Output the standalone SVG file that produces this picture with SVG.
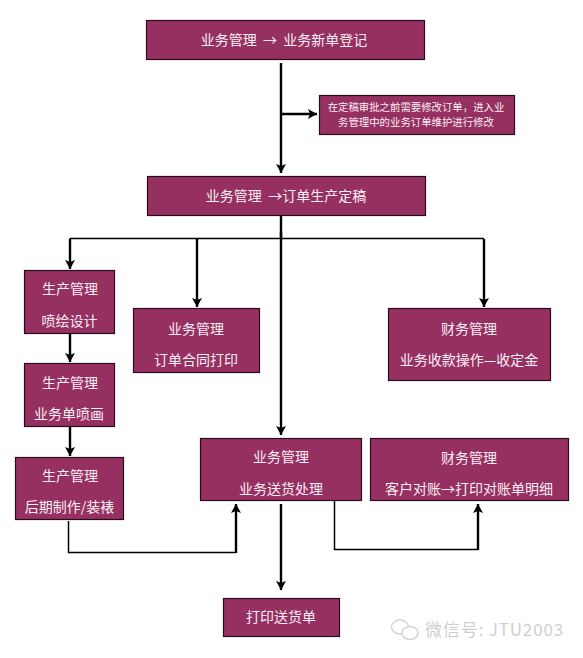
<svg xmlns="http://www.w3.org/2000/svg" width="583" height="658" viewBox="0 0 583 658">
<style>
.b{fill:#953061;stroke:#2a0a20;stroke-width:1.2}
.t{font-family:"Noto Sans CJK SC","Liberation Sans",sans-serif;font-size:14px;fill:#fbeef4;text-anchor:middle}
.s{font-size:10.4px}
.c{fill:none;stroke:#000;stroke-width:2.4}
.n{fill:none;stroke:#000;stroke-width:1.5}
.h{fill:#000}
.w{font-family:"Noto Sans CJK SC","Liberation Sans",sans-serif;font-size:17px;fill:#cfcfcf;letter-spacing:.85px}
</style>
<defs>
<marker id="a" markerUnits="userSpaceOnUse" markerWidth="11" markerHeight="10" refX="9" refY="5" orient="auto"><path class="h" d="M0 0L9 5L0 10L2 5Z"/></marker>
</defs>
<rect width="583" height="658" fill="#fff"/>
<g id="connectors">
<path class="c" d="M281 63V173" marker-end="url(#a)"/>
<path class="c" d="M281 114H317" marker-end="url(#a)"/>
<path class="c" d="M281 215V238"/>
<path class="n" d="M69.500 238.500H484"/>
<path class="c" d="M70 239V269" marker-end="url(#a)"/>
<path class="c" d="M197 239V307" marker-end="url(#a)"/>
<path class="c" d="M281 232V435" marker-end="url(#a)"/>
<path class="c" d="M484 239V307" marker-end="url(#a)"/>
<path class="c" d="M70 333V362" marker-end="url(#a)"/>
<path class="c" d="M70 426V456" marker-end="url(#a)"/>
<path class="n" d="M68.500 521V552.500H236"/>
<path class="c" d="M236 553V504" marker-end="url(#a)"/>
<path class="c" d="M281 504V590" marker-end="url(#a)"/>
<path class="n" d="M334.500 500V549.500H478"/>
<path class="c" d="M478 550V504" marker-end="url(#a)"/>
</g>
<g id="n1"><rect class="b" x="146.500" y="20.500" width="278" height="39"/><text class="t" x="284" y="45">业务管理 &#160;→&#160; 业务新单登记</text></g>
<g id="n2"><rect class="b" x="319.500" y="95.500" width="195" height="39"/><text class="t s" x="416" y="111">在定稿审批之前需要修改订单，进入业</text><text class="t s" x="416" y="126">务管理中的业务订单维护进行修改</text></g>
<g id="n3"><rect class="b" x="147.500" y="176.500" width="278" height="39"/><text class="t" x="286" y="201">业务管理 &#160;→订单生产定稿</text></g>
<g id="n4"><rect class="b" x="24.500" y="270.500" width="90" height="63"/><text class="t" x="70" y="294">生产管理</text><text class="t" x="69.500" y="326">喷绘设计</text></g>
<g id="n5"><rect class="b" x="133.500" y="308.500" width="126" height="64"/><text class="t" x="196" y="334">业务管理</text><text class="t" x="196" y="365">订单合同打印</text></g>
<g id="n6"><rect class="b" x="388.500" y="308.500" width="162" height="72"/><text class="t" x="469" y="334">财务管理</text><text class="t" x="469" y="365">业务收款操作—收定金</text></g>
<g id="n7"><rect class="b" x="24.500" y="363.500" width="90" height="63"/><text class="t" x="70" y="388">生产管理</text><text class="t" x="69" y="419">业务单喷画</text></g>
<g id="n8"><rect class="b" x="15.500" y="457.500" width="108" height="62"/><text class="t" x="70" y="481">生产管理</text><text class="t" x="69.500" y="512">后期制作/装裱</text></g>
<g id="n9"><rect class="b" x="200.500" y="438.500" width="161" height="62"/><text class="t" x="281" y="462">业务管理</text><text class="t" x="281" y="494">业务送货处理</text></g>
<g id="n10"><rect class="b" x="370.500" y="438.500" width="198" height="62"/><text class="t" x="469" y="463">财务管理</text><text class="t" x="469" y="494">客户对账→打印对账单明细</text></g>
<g id="n11"><rect class="b" x="223.500" y="598.500" width="116" height="38"/><text class="t" x="281" y="622">打印送货单</text></g>
<g id="watermark"><ellipse cx="400" cy="627" rx="8.500" ry="7" fill="none" stroke="#d4d4d4" stroke-width="1.500"/><ellipse cx="410" cy="633" rx="8" ry="6.500" fill="#fff" stroke="#d4d4d4" stroke-width="1.500"/><text class="w" x="425" y="636">微信号: JTU2003</text></g>
</svg>
